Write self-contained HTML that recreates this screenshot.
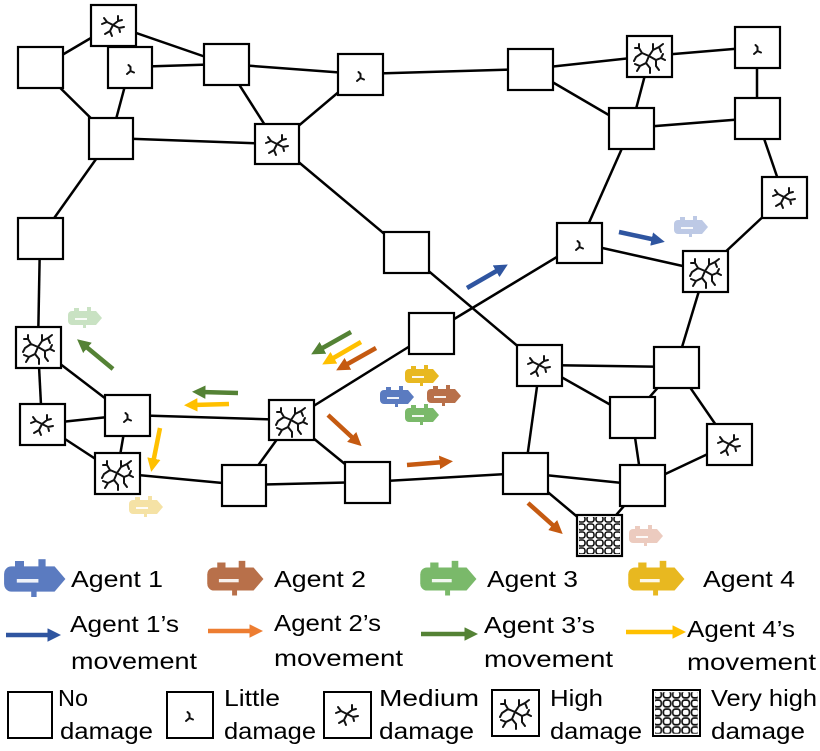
<!DOCTYPE html>
<html><head><meta charset="utf-8"><style>
html,body{margin:0;padding:0;background:#fff}
svg{display:block}
text{font-family:"Liberation Sans",sans-serif;font-size:23px;fill:#000}
</style></head><body>
<svg width="820" height="751" viewBox="0 0 820 751" xmlns="http://www.w3.org/2000/svg">
<defs>
<g id="little"><path d="M22.5 20 l0 4 M22.5 24 l-3.5 3 M22.5 24 l3.5 1.5 M22.5 20 l-2 -2" stroke="#111" stroke-width="2" fill="none" stroke-linecap="round"/></g>
<g id="medium" stroke="#111" stroke-width="2" fill="none" stroke-linecap="round">
<path d="M22 20 l-6 -3 l-3 -4 M16 17 l-5 2 M22 20 l5 -4 l0 -5 M27 16 l4 -1 M22 20 l6 3 l5 -1 M28 23 l1 4 M22 20 l-3 6 l-5 3 M19 26 l2 5"/>
</g>
<g id="high" stroke="#111" stroke-width="2" fill="none" stroke-linecap="round">
<path d="M22 20 l-7 -3 l-3 -5 l-4 0 M15 17 l-6 4 l-2 4 M22 20 l4 -6 l0 -6 M26 14 l6 -3 l4 -3 M32 11 l2 5 M22 20 l7 4 l5 -2 l4 2 M29 24 l0 6 l3 4 M22 20 l-3 7 l-6 3 l-3 5 M19 27 l4 5 l0 5 M13 30 l-5 -2 M12 12 l0 -4 M34 22 l2 -4"/>
</g>
<pattern id="cells" width="9" height="8" patternUnits="userSpaceOnUse">
<rect x="1" y="1" width="7" height="6" rx="2.5" fill="#fff" stroke="#111" stroke-width="1.6"/>
</pattern>
<g id="vhigh"><rect x="2" y="2" width="41" height="37" fill="url(#cells)"/></g>
<g id="agent">
<path d="M3 -7 h24 l6 7 l-6 7 h-24 a4 4 0 0 1 -4 -4 v-6 a4 4 0 0 1 4 -4z"/>
<rect x="-1" y="-3" width="3" height="6"/>
<rect x="5" y="-10" width="5" height="4"/><rect x="18" y="-11" width="4" height="5"/><rect x="14" y="6" width="3" height="4"/>
<rect x="6" y="0" width="12" height="2" fill="#fff" opacity="0.9"/>
</g>
<marker id="mb" markerWidth="3" markerHeight="3" refX="1" refY="1.5" orient="auto" markerUnits="strokeWidth"><path d="M0 0 L3 1.5 L0 3z" fill="#2f55a0"/></marker>
<marker id="mo" markerWidth="3" markerHeight="3" refX="1" refY="1.5" orient="auto" markerUnits="strokeWidth"><path d="M0 0 L3 1.5 L0 3z" fill="#c55a11"/></marker>
<marker id="mo2" markerWidth="3" markerHeight="3" refX="1" refY="1.5" orient="auto" markerUnits="strokeWidth"><path d="M0 0 L3 1.5 L0 3z" fill="#ed7d31"/></marker>
<marker id="mg" markerWidth="3" markerHeight="3" refX="1" refY="1.5" orient="auto" markerUnits="strokeWidth"><path d="M0 0 L3 1.5 L0 3z" fill="#548235"/></marker>
<marker id="my" markerWidth="3" markerHeight="3" refX="1" refY="1.5" orient="auto" markerUnits="strokeWidth"><path d="M0 0 L3 1.5 L0 3z" fill="#ffc000"/></marker>
</defs>

<g stroke="#000" stroke-width="2.5" fill="none">
<line x1="40" y1="68" x2="113" y2="25"/>
<line x1="40" y1="68" x2="111" y2="138"/>
<line x1="130" y1="67" x2="111" y2="138"/>
<line x1="130" y1="67" x2="226" y2="64"/>
<line x1="113" y1="25" x2="226" y2="64"/>
<line x1="226" y1="64" x2="277" y2="144"/>
<line x1="226" y1="64" x2="360" y2="74"/>
<line x1="360" y1="74" x2="277" y2="144"/>
<line x1="360" y1="74" x2="530" y2="69"/>
<line x1="111" y1="138" x2="277" y2="144"/>
<line x1="111" y1="138" x2="40" y2="238"/>
<line x1="277" y1="144" x2="406" y2="252"/>
<line x1="530" y1="69" x2="650" y2="56"/>
<line x1="530" y1="69" x2="631" y2="128"/>
<line x1="650" y1="56" x2="631" y2="128"/>
<line x1="650" y1="56" x2="757" y2="47"/>
<line x1="757" y1="47" x2="757" y2="118"/>
<line x1="631" y1="128" x2="757" y2="118"/>
<line x1="757" y1="118" x2="784" y2="197"/>
<line x1="631" y1="128" x2="580" y2="243"/>
<line x1="784" y1="197" x2="705" y2="271"/>
<line x1="580" y1="243" x2="705" y2="271"/>
<line x1="580" y1="243" x2="431" y2="333"/>
<line x1="406" y1="252" x2="540" y2="365"/>
<line x1="705" y1="271" x2="676" y2="367"/>
<line x1="40" y1="238" x2="38" y2="347"/>
<line x1="38" y1="347" x2="127" y2="415"/>
<line x1="38" y1="347" x2="42" y2="424"/>
<line x1="42" y1="424" x2="127" y2="415"/>
<line x1="42" y1="424" x2="117" y2="473"/>
<line x1="127" y1="415" x2="117" y2="473"/>
<line x1="117" y1="473" x2="244" y2="485"/>
<line x1="127" y1="415" x2="291" y2="420"/>
<line x1="291" y1="420" x2="431" y2="333"/>
<line x1="291" y1="420" x2="244" y2="485"/>
<line x1="291" y1="420" x2="367" y2="482"/>
<line x1="244" y1="485" x2="367" y2="482"/>
<line x1="367" y1="482" x2="525" y2="473"/>
<line x1="540" y1="365" x2="676" y2="367"/>
<line x1="540" y1="365" x2="632" y2="417"/>
<line x1="540" y1="365" x2="525" y2="473"/>
<line x1="676" y1="367" x2="632" y2="417"/>
<line x1="676" y1="367" x2="729" y2="444"/>
<line x1="632" y1="417" x2="642" y2="485"/>
<line x1="729" y1="444" x2="642" y2="485"/>
<line x1="525" y1="473" x2="642" y2="485"/>
<line x1="525" y1="473" x2="599" y2="535"/>
<line x1="642" y1="485" x2="599" y2="535"/>
</g>

<g stroke="#000" stroke-width="2.2" fill="#fff">
<rect x="18" y="47" width="45" height="41"/>
<rect x="91" y="5" width="45" height="41"/>
<rect x="108" y="47" width="44" height="41"/>
<rect x="204" y="44" width="45" height="41"/>
<rect x="89" y="118" width="44" height="41"/>
<rect x="338" y="54" width="45" height="41"/>
<rect x="255" y="124" width="44" height="40"/>
<rect x="18" y="218" width="45" height="41"/>
<rect x="384" y="232" width="45" height="41"/>
<rect x="508" y="49" width="45" height="41"/>
<rect x="627" y="36" width="45" height="41"/>
<rect x="735" y="27" width="45" height="41"/>
<rect x="609" y="108" width="45" height="41"/>
<rect x="735" y="98" width="45" height="41"/>
<rect x="762" y="177" width="45" height="41"/>
<rect x="557" y="223" width="45" height="40"/>
<rect x="683" y="251" width="45" height="41"/>
<rect x="16" y="327" width="45" height="41"/>
<rect x="20" y="404" width="45" height="41"/>
<rect x="105" y="395" width="45" height="41"/>
<rect x="95" y="453" width="45" height="41"/>
<rect x="269" y="400" width="45" height="40"/>
<rect x="222" y="465" width="44" height="41"/>
<rect x="345" y="462" width="45" height="41"/>
<rect x="409" y="313" width="45" height="41"/>
<rect x="517" y="345" width="45" height="41"/>
<rect x="654" y="347" width="45" height="41"/>
<rect x="610" y="397" width="45" height="41"/>
<rect x="707" y="424" width="45" height="41"/>
<rect x="503" y="453" width="45" height="41"/>
<rect x="620" y="465" width="45" height="41"/>
<rect x="577" y="515" width="45" height="41"/>
</g>
<use href="#medium" x="91" y="5"/>
<use href="#little" x="108" y="47"/>
<use href="#little" x="338" y="54"/>
<use href="#medium" x="255" y="124"/>
<use href="#high" x="627" y="36"/>
<use href="#little" x="735" y="27"/>
<use href="#medium" x="762" y="177"/>
<use href="#little" x="557" y="223"/>
<use href="#high" x="683" y="251"/>
<use href="#high" x="16" y="327"/>
<use href="#medium" x="20" y="404"/>
<use href="#little" x="105" y="395"/>
<use href="#high" x="95" y="453"/>
<use href="#high" x="269" y="400"/>
<use href="#medium" x="517" y="345"/>
<use href="#medium" x="707" y="424"/>
<use href="#vhigh" x="577" y="515"/>

<g stroke-width="4.5" fill="none">
<line x1="467" y1="288" x2="500" y2="269" stroke="#2f55a0" marker-end="url(#mb)"/>
<line x1="619" y1="232" x2="656" y2="240" stroke="#2f55a0" marker-end="url(#mb)"/>
<line x1="113" y1="369" x2="84" y2="345" stroke="#548235" marker-end="url(#mg)"/>
<line x1="351" y1="332" x2="319" y2="350" stroke="#548235" marker-end="url(#mg)"/>
<line x1="361" y1="342" x2="330" y2="360" stroke="#ffc000" marker-end="url(#my)"/>
<line x1="376" y1="348" x2="344" y2="366" stroke="#c55a11" marker-end="url(#mo)"/>
<line x1="238" y1="393" x2="201" y2="392" stroke="#548235" marker-end="url(#mg)"/>
<line x1="229" y1="404" x2="193" y2="405" stroke="#ffc000" marker-end="url(#my)"/>
<line x1="160" y1="428" x2="153" y2="463" stroke="#ffc000" marker-end="url(#my)"/>
<line x1="328" y1="415" x2="355" y2="440" stroke="#c55a11" marker-end="url(#mo)"/>
<line x1="407" y1="465" x2="444" y2="462" stroke="#c55a11" marker-end="url(#mo)"/>
<line x1="528" y1="503" x2="556" y2="528" stroke="#c55a11" marker-end="url(#mo)"/>
</g>

<use href="#agent" x="675" y="227" fill="#5b7bc0" opacity="0.4"/>
<use href="#agent" x="69" y="318" fill="#7ab96a" opacity="0.4"/>
<use href="#agent" x="130" y="507" fill="#e8b820" opacity="0.4"/>
<use href="#agent" x="630" y="536" fill="#d08060" opacity="0.4"/>
<use href="#agent" x="406" y="376" fill="#e8b820"/>
<use href="#agent" x="381" y="397" fill="#5b7bc0"/>
<use href="#agent" x="428" y="396" fill="#b8704a"/>
<use href="#agent" x="406" y="415" fill="#7ab96a"/>

<g transform="translate(6,579) scale(1.8)"><use href="#agent" fill="#5b7bc0"/></g>
<g transform="translate(209,579) scale(1.65)"><use href="#agent" fill="#b8704a"/></g>
<g transform="translate(422,579) scale(1.65)"><use href="#agent" fill="#7ab96a"/></g>
<g transform="translate(630,579) scale(1.65)"><use href="#agent" fill="#e8b820"/></g>
<text x="71" y="587" textLength="92" lengthAdjust="spacingAndGlyphs">Agent 1</text>
<text x="274" y="587" textLength="92" lengthAdjust="spacingAndGlyphs">Agent 2</text>
<text x="487" y="587" textLength="91" lengthAdjust="spacingAndGlyphs">Agent 3</text>
<text x="703" y="587" textLength="92" lengthAdjust="spacingAndGlyphs">Agent 4</text>

<g stroke-width="4.5">
<line x1="6" y1="635" x2="52" y2="635" stroke="#2f55a0" marker-end="url(#mb)"/>
<line x1="208" y1="631" x2="254" y2="631" stroke="#ed7d31" marker-end="url(#mo2)"/>
<line x1="421" y1="634" x2="469" y2="634" stroke="#548235" marker-end="url(#mg)"/>
<line x1="626" y1="632" x2="677" y2="632" stroke="#ffc000" marker-end="url(#my)"/>
</g>
<text x="70" y="632" textLength="109" lengthAdjust="spacingAndGlyphs">Agent 1’s</text>
<text x="71" y="669" textLength="126" lengthAdjust="spacingAndGlyphs">movement</text>
<text x="274" y="631" textLength="107" lengthAdjust="spacingAndGlyphs">Agent 2’s</text>
<text x="274" y="666" textLength="129" lengthAdjust="spacingAndGlyphs">movement</text>
<text x="484" y="633" textLength="111" lengthAdjust="spacingAndGlyphs">Agent 3’s</text>
<text x="484" y="667" textLength="129" lengthAdjust="spacingAndGlyphs">movement</text>
<text x="687" y="637" textLength="108" lengthAdjust="spacingAndGlyphs">Agent 4’s</text>
<text x="687" y="670" textLength="129" lengthAdjust="spacingAndGlyphs">movement</text>

<g stroke="#000" stroke-width="2" fill="#fff">
<rect x="8" y="692" width="44" height="46"/>
<rect x="167" y="692" width="46" height="46"/>
<rect x="324" y="692" width="47" height="46"/>
<rect x="492" y="690" width="47" height="46"/>
<rect x="653" y="690" width="47" height="46"/>
</g>
<use href="#little" x="167" y="694"/>
<use href="#medium" x="325" y="694"/>
<use href="#high" x="493" y="692"/>
<g transform="translate(653,690) scale(1.04 1.12)"><use href="#vhigh"/></g>
<text x="58" y="706" textLength="30" lengthAdjust="spacingAndGlyphs">No</text>
<text x="60" y="739" textLength="93" lengthAdjust="spacingAndGlyphs">damage</text>
<text x="224" y="706" textLength="56" lengthAdjust="spacingAndGlyphs">Little</text>
<text x="224" y="739" textLength="92" lengthAdjust="spacingAndGlyphs">damage</text>
<text x="379" y="706" textLength="100" lengthAdjust="spacingAndGlyphs">Medium</text>
<text x="379" y="739" textLength="95" lengthAdjust="spacingAndGlyphs">damage</text>
<text x="550" y="706" textLength="53" lengthAdjust="spacingAndGlyphs">High</text>
<text x="550" y="739" textLength="92" lengthAdjust="spacingAndGlyphs">damage</text>
<text x="711" y="706" textLength="106" lengthAdjust="spacingAndGlyphs">Very high</text>
<text x="711" y="739" textLength="94" lengthAdjust="spacingAndGlyphs">damage</text>
</svg>
</body></html>
